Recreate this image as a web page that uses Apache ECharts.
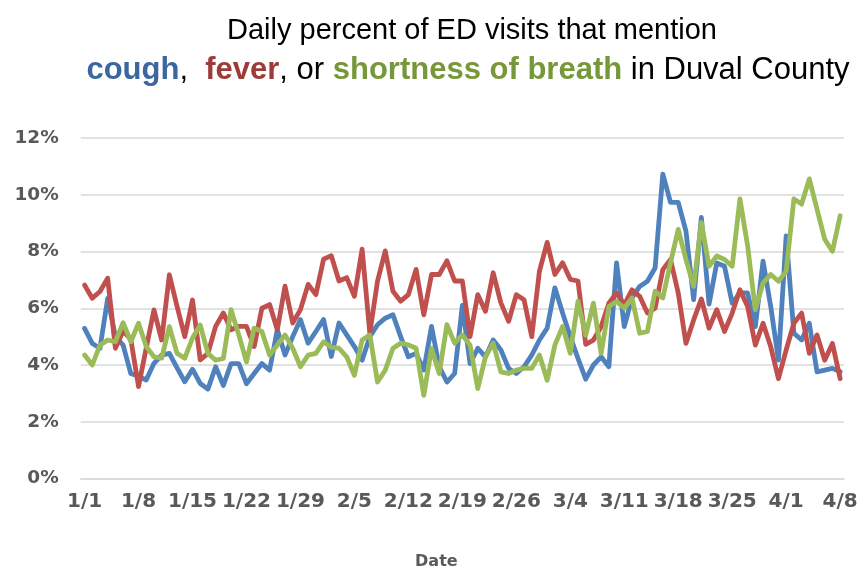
<!DOCTYPE html>
<html>
<head>
<meta charset="utf-8">
<script src="https://cdn.jsdelivr.net/npm/echarts@6/dist/echarts.min.js"></script>
<style>
	html, body { margin: 0; padding: 0; background: #fff; }
	#main { width: 864px; height: 570px; }
</style>
</head>
<body>
<div id="main"></div>
<script>
// daily dates 1/1 .. 4/8 (2020, leap year)
const monthDays = [31, 29, 31, 8];
const dates = [];
monthDays.forEach(function (n, m) {
	for (let d = 1; d <= n; d++) dates.push((m + 1) + '/' + d);
});

// percent of ED visits
const cough = [
	5.29, 4.76, 4.59, 6.35, 5.0, 4.7, 3.7, 3.6, 3.47, 4.06,
	4.35, 4.41, 3.9, 3.41, 3.85, 3.35, 3.15, 3.94, 3.28, 4.05,
	4.05, 3.34, 3.7, 4.05, 3.82, 5.24, 4.35, 5.0, 5.6, 4.77,
	5.18, 5.6, 4.3, 5.48, 5.06, 4.65, 4.17, 5.0, 5.42, 5.65,
	5.77, 5.0, 4.29, 4.41, 3.82, 5.36, 3.94, 3.4, 3.7, 6.1,
	4.05, 4.59, 4.29, 4.88, 4.53, 3.88, 3.7, 3.94, 4.35, 4.88,
	5.3, 6.72, 5.83, 5.0, 4.23, 3.5, 4.0, 4.29, 3.94, 7.6,
	5.35, 6.36, 6.77, 6.95, 7.42, 10.73, 9.73, 9.73, 8.72, 6.3,
	9.2, 6.15, 7.6, 7.48, 6.18, 6.54, 6.54, 5.35, 7.66, 6.06,
	4.17, 8.55, 5.12, 4.88, 5.47, 3.76, 3.82, 3.88, 3.76
];
const fever = [
	6.82, 6.35, 6.59, 7.06, 4.59, 5.2, 4.9, 3.24, 4.6, 5.94,
	4.88, 7.18, 6.06, 5.0, 6.29, 4.18, 4.41, 5.36, 5.83, 5.24,
	5.36, 5.36, 4.65, 6.0, 6.13, 5.24, 6.78, 5.48, 5.95, 6.84,
	6.48, 7.73, 7.85, 6.96, 7.08, 6.42, 8.08, 5.12, 6.96, 8.02,
	6.6, 6.25, 6.48, 7.37, 5.77, 7.19, 7.19, 7.67, 6.96, 6.96,
	5.0, 6.48, 5.89, 7.25, 6.19, 5.54, 6.48, 6.3, 5.0, 7.31,
	8.32, 7.19, 7.6, 7.02, 6.96, 4.73, 4.88, 5.35, 6.18, 6.54,
	6.12, 6.65, 6.42, 5.83, 6.0, 7.36, 7.72, 6.54, 4.76, 5.59,
	6.33, 5.3, 5.95, 5.18, 5.83, 6.65, 6.06, 4.7, 5.47, 4.64,
	3.52, 4.53, 5.47, 5.83, 4.41, 5.06, 4.17, 4.76, 3.52
];
const breath = [
	4.35, 4.0, 4.7, 4.88, 4.82, 5.49, 4.82, 5.47, 4.65, 4.29,
	4.24, 5.35, 4.41, 4.24, 4.95, 5.41, 4.41, 4.17, 4.23, 5.95,
	5.06, 4.11, 5.3, 5.18, 4.35, 4.7, 5.06, 4.59, 3.94, 4.35,
	4.41, 4.82, 4.62, 4.59, 4.29, 3.64, 4.88, 5.06, 3.4, 3.82,
	4.59, 4.77, 4.71, 4.59, 2.93, 4.59, 3.7, 5.42, 4.77, 5.06,
	4.7, 3.17, 4.29, 4.77, 3.76, 3.7, 3.82, 3.88, 3.88, 4.35,
	3.46, 4.7, 5.36, 4.41, 6.25, 5.05, 6.18, 4.41, 6.06, 6.24,
	6.0, 6.36, 5.12, 5.18, 6.6, 6.36, 7.6, 8.78, 7.72, 6.77,
	9.02, 7.48, 7.84, 7.72, 7.48, 9.85, 8.2, 5.95, 6.89, 7.19,
	6.95, 7.3, 9.85, 9.67, 10.56, 9.49, 8.43, 8.01, 9.26
];

const seriesNames = ['cough', 'fever', 'shortness of breath'];
const lineColors = ['#4F81BD', '#C0504D', '#9BBB59'];
const textColors = ['#3B67A1', '#9C3C39', '#77983A'];

const titleFont = 'Liberation Sans, Arial, sans-serif';
const axisFont = 'DejaVu Sans, sans-serif';

const myChart = echarts.init(document.getElementById('main'), null, { renderer: 'canvas' });

const option = {
	animation: false,
	title: [
		{
			text: 'Daily percent of ED visits that mention',
			left: 467,
			top: 11,
			textAlign: 'center',
			textStyle: { fontFamily: titleFont, fontSize: 29, fontWeight: 'normal', color: '#000' }
		},
		{
			text: '{c|cough}{n|,  }{f|fever}{n|, or }{s|shortness of breath}{n| in Duval County}',
			left: 463,
			top: 50,
			textAlign: 'center',
			textStyle: {
				fontFamily: titleFont,
				fontSize: 31,
				rich: {
					c: { fontFamily: titleFont, fontSize: 31, fontWeight: 'bold', color: textColors[0] },
					f: { fontFamily: titleFont, fontSize: 31, fontWeight: 'bold', color: textColors[1] },
					s: { fontFamily: titleFont, fontSize: 31, fontWeight: 'bold', color: textColors[2] },
					n: { fontFamily: titleFont, fontSize: 31, fontWeight: 'normal', color: '#000' }
				}
			}
		}
	],
	grid: { left: 80.7, right: 20, top: 138, bottom: 91.5, outerBoundsMode: 'none', containLabel: false },
	xAxis: {
		type: 'category',
		data: dates,
		boundaryGap: true,
		name: 'Date',
		nameLocation: 'middle',
		nameGap: 75,
		nameTextStyle: {
			fontFamily: axisFont,
			fontSize: 16,
			fontWeight: 'bold',
			color: '#595959',
			padding: [0, 52, 0, 0]
		},
		axisLine: { lineStyle: { color: '#D9D9D9', width: 1.5 } },
		axisTick: { interval: 6, length: 6, lineStyle: { color: '#D9D9D9', width: 1.5 } },
		axisLabel: {
			interval: 6,
			margin: 13,
			fontFamily: axisFont,
			fontSize: 20,
			fontWeight: 'bold',
			color: '#595959'
		},
		splitLine: { show: false }
	},
	yAxis: {
		type: 'value',
		min: 0,
		max: 12,
		interval: 2,
		axisLine: { show: false },
		axisTick: { show: false },
		axisLabel: {
			formatter: '{value}%',
			margin: 22,
			fontFamily: axisFont,
			fontSize: 18.5,
			fontWeight: 'bold',
			color: '#595959'
		},
		splitLine: { lineStyle: { color: '#D9D9D9', width: 1.5 } }
	},
	series: [cough, fever, breath].map(function (values, k) {
		return {
			name: seriesNames[k],
			type: 'line',
			data: values,
			symbol: 'none',
			lineStyle: { color: lineColors[k], width: 4.8, join: 'round', cap: 'round' },
			itemStyle: { color: lineColors[k] }
		};
	})
};
myChart.setOption(option);
</script>
</body>
</html>
